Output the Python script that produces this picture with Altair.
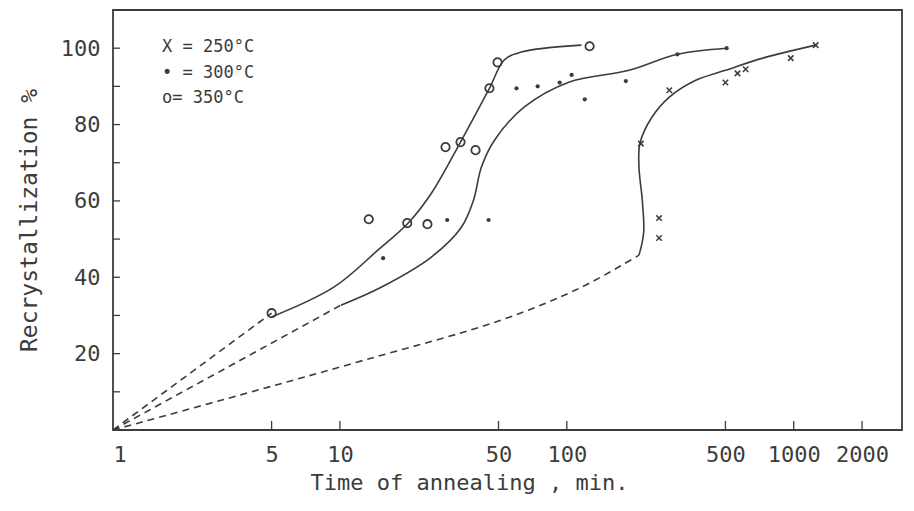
import altair as alt
import pandas as pd

# ---- measured data points ----
t250 = [212, 255, 255, 283, 500, 565, 614, 970, 1250]
r250 = [75, 55.5, 50.3, 89, 91, 93.4, 94.5, 97.4, 100.8]
t300 = [15.5, 29.7, 45.2, 60, 74.4, 93, 105, 120, 182, 307, 506]
r300 = [45, 55, 55, 89.5, 90, 91, 93, 86.6, 91.4, 98.4, 100]
t350 = [5, 13.4, 19.8, 24.3, 29.2, 34, 39.6, 45.6, 49.5, 126]
r350 = [30.6, 55.2, 54.2, 53.9, 74.1, 75.4, 73.3, 89.5, 96.3, 100.5]

# ---- drawn solid curves ----
c350_t = [5, 9.4, 14.7, 20, 25.3, 34, 45.6, 53, 63, 116]
c350_r = [29.6, 37.4, 47.1, 54.2, 62, 75.4, 89.5, 96.9, 99, 100.8]
c300_t = [10.1, 15.2, 25.3, 34.3, 38.8, 42, 48, 65, 102, 188, 307, 506]
c300_r = [32.7, 37.4, 45.3, 53.1, 60.2, 68.8, 75.9, 84.6, 91.1, 94.2, 98.4, 100]
c250_t = [208, 218, 215, 208, 210, 237, 283, 370, 500, 730, 1250]
c250_r = [45.8, 51.6, 60.2, 68.8, 75.1, 81.9, 87.2, 91.6, 94.2, 97.4, 100.8]

# ---- dashed extrapolations ----
d350_t = [1, 5]
d350_r = [0, 30.6]
d300_t = [1, 10.1]
d300_r = [0, 32.7]
d250_t = [1, 3.65, 12.8, 51.5, 116, 208]
d250_r = [0, 9.2, 18.3, 28.8, 37.4, 45.8]

# ---- axis ticks / labels ----
x_ticks = [1, 5, 10, 50, 100, 500, 1000, 2000]
y_labels = [20, 40, 60, 80, 100]
y_ticks = [10, 20, 30, 40, 50, 60, 70, 80, 90, 100]
legend_lines = ["X = 250°C", "• = 300°C", "o= 350°C"]

INK = "#3c3c3c"
FONT = "DejaVu Sans Mono"


def curve_df(name, ts, rs):
    return pd.DataFrame({"t": ts, "r": rs, "seq": range(len(ts)), "curve": name})


solid = pd.concat([curve_df("350", c350_t, c350_r),
                   curve_df("300", c300_t, c300_r),
                   curve_df("250", c250_t, c250_r)])
dashed = pd.concat([curve_df("350", d350_t, d350_r),
                    curve_df("300", d300_t, d300_r),
                    curve_df("250", d250_t, d250_r)])

xs = alt.Scale(type="log", domain=[1, 3000], nice=False)
ys = alt.Scale(domain=[0, 110], nice=False)

xaxis = alt.Axis(values=x_ticks, format="d", title="Time of annealing , min.",
                 grid=False, ticks=False, domain=False, labelPadding=14,
                 titlePadding=7, labelFontSize=22, titleFontSize=22,
                 titleX=356, titleAlign="center")
yaxis = alt.Axis(values=y_labels, title="Recrystallization %", grid=False,
                 ticks=False, domain=False, labelPadding=13, titlePadding=19,
                 labelFontSize=22, titleFontSize=23)

X = alt.X("t:Q", scale=xs, axis=xaxis)
Y = alt.Y("r:Q", scale=ys, axis=yaxis)

dashed_layer = alt.Chart(dashed).mark_line(
    interpolate="catmull-rom", color=INK, strokeWidth=1.6, strokeDash=[7, 5]
).encode(x=X, y=Y, detail="curve:N", order="seq:Q")

solid_layer = alt.Chart(solid).mark_line(
    interpolate="catmull-rom", color=INK, strokeWidth=1.6
).encode(x=X, y=Y, detail="curve:N", order="seq:Q")

p350 = alt.Chart(pd.DataFrame({"t": t350, "r": r350})).mark_point(
    shape="circle", filled=False, color=INK, size=70, strokeWidth=1.8, opacity=1
).encode(x=X, y=Y)

p300 = alt.Chart(pd.DataFrame({"t": t300, "r": r300})).mark_point(
    shape="circle", filled=True, color=INK, size=18, opacity=1
).encode(x=X, y=Y)

p250 = alt.Chart(pd.DataFrame({"t": t250, "r": r250})).mark_point(
    shape="M-1,-1L1,1M-1,1L1,-1", filled=False, color=INK, size=30,
    strokeWidth=1.5, opacity=1
).encode(x=X, y=Y)

xtick_layer = alt.Chart(pd.DataFrame({"t": x_ticks[1:]})).mark_rule(
    color=INK, strokeWidth=1.3
).encode(x=X, y=alt.value(420), y2=alt.value(411))

ytick_layer = alt.Chart(pd.DataFrame({"r": y_ticks})).mark_rule(
    color=INK, strokeWidth=1.3
).encode(y=Y, x=alt.value(0), x2=alt.value(7))

legend_layers = []
for i, line in enumerate(legend_lines):
    legend_layers.append(
        alt.Chart(pd.DataFrame({"label": [line]})).mark_text(
            align="left", baseline="middle", font=FONT, fontSize=17, color=INK
        ).encode(text="label:N", x=alt.value(49), y=alt.value(37 + 25.5 * i))
    )

chart = alt.layer(
    dashed_layer, solid_layer, p350, p300, p250, xtick_layer, ytick_layer,
    *legend_layers
).properties(
    width=789, height=420,
    padding={"left": 113, "top": 10, "right": 12, "bottom": 81},
    autosize="none",
    background="white",
).configure_view(
    stroke=INK, strokeWidth=1.8
).configure_axis(
    labelFont=FONT, titleFont=FONT,
    labelColor=INK, titleColor=INK, titleFontWeight="normal",
    grid=False, ticks=False, domain=False
)

chart.save("out.html", embed_options={"renderer": "svg", "actions": False})
